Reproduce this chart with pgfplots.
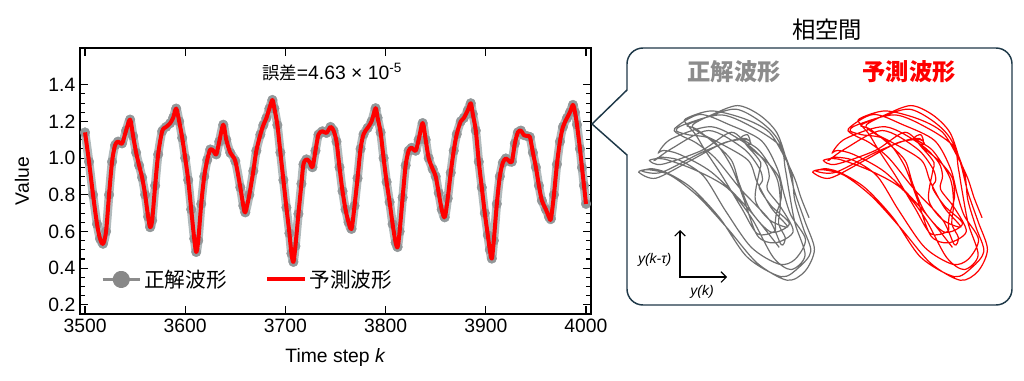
\documentclass[border=0pt]{standalone}
\usepackage{fontspec}
\setmainfont{Liberation Sans}
\newfontfamily\jp{Noto Sans CJK JP}
\usepackage{pgfplots}
\usepackage{pgfplotstable}
\pgfplotsset{compat=1.18}
\usetikzlibrary{arrows.meta}
\definecolor{halo}{RGB}{176,186,188}
\definecolor{dotgray}{RGB}{146,152,154}
\definecolor{legdot}{RGB}{136,136,136}
\definecolor{ptgray}{RGB}{112,112,112}
\definecolor{boxcol}{RGB}{30,56,72}
\definecolor{lblgray}{RGB}{140,140,140}

% k, value, value about 17 steps earlier (for the phase-space view)
\pgfplotstableread{
k v lag
3500 1.14 nan
3504 0.98 nan
3508 0.80 nan
3512 0.64 nan
3515 0.56 nan
3518 0.533 nan
3521 0.60 1.14
3524 0.80 0.98
3527 0.98 0.80
3530 1.07 0.64
3533 1.09 0.56
3537 1.08 0.533
3541 1.15 0.60
3545 1.21 0.80
3548 1.12 0.98
3551 1.03 1.07
3554 0.96 1.09
3557 0.894 1.08
3560 0.80 1.15
3563 0.68 1.21
3565 0.623 1.12
3567 0.66 1.03
3570 0.85 0.96
3573 1.02 0.894
3577 1.146 0.80
3581 1.17 0.68
3585 1.19 0.623
3588 1.22 0.66
3591 1.27 0.85
3594 1.20 1.02
3597 1.11 1.146
3600 1.00 1.17
3603 0.88 1.19
3606 0.72 1.22
3609 0.56 1.27
3611 0.488 1.20
3613 0.55 1.11
3616 0.75 1.00
3619 0.90 0.88
3622 0.99 0.72
3625 1.047 0.56
3628 1.04 0.488
3631 1.02 0.55
3634 1.09 0.75
3638 1.182 0.90
3641 1.10 0.99
3645 1.029 1.047
3650 0.984 1.04
3655 0.84 1.02
3658 0.74 1.09
3660 0.704 1.182
3664 0.80 1.10
3668 0.93 1.029
3671 1.04 0.984
3675 1.128 0.84
3678 1.18 0.74
3681 1.218 0.704
3684 1.27 0.80
3687 1.317 0.93
3689 1.27 1.04
3692 1.18 1.128
3695 1.03 1.18
3698 0.88 1.218
3701 0.73 1.27
3704 0.59 1.317
3706 0.48 1.27
3708 0.434 1.18
3710 0.52 1.03
3713 0.696 0.88
3716 0.86 0.73
3718 0.966 0.59
3721 0.993 0.48
3724 0.98 0.434
3727 0.95 0.52
3730 1.04 0.696
3733 1.128 0.86
3737 1.146 0.966
3741 1.137 0.993
3745 1.17 0.98
3748 1.15 0.95
3751 1.09 1.04
3754 0.95 1.128
3757 0.82 1.146
3760 0.72 1.137
3763 0.65 1.17
3766 0.614 1.15
3769 0.74 1.09
3772 0.89 0.95
3775 1.05 0.82
3778 1.13 0.72
3782 1.164 0.65
3786 1.20 0.614
3790 1.272 0.74
3792 1.22 0.89
3795 1.14 1.05
3798 1.00 1.13
3801 0.87 1.164
3804 0.76 1.20
3807 0.64 1.272
3810 0.54 1.22
3812 0.515 1.14
3814 0.60 1.00
3817 0.785 0.87
3820 0.96 0.76
3823 1.04 0.64
3826 1.056 0.54
3830 1.04 0.515
3833 1.10 0.60
3837 1.191 0.785
3840 1.10 0.96
3843 1.00 1.04
3847 0.94 1.056
3850 0.90 1.04
3853 0.81 1.10
3856 0.72 1.191
3859 0.677 1.10
3862 0.78 1.00
3865 0.92 0.94
3868 1.04 0.90
3871 1.13 0.81
3875 1.20 0.72
3878 1.218 0.677
3882 1.26 0.78
3885 1.299 0.92
3887 1.24 1.04
3890 1.15 1.13
3893 0.98 1.20
3896 0.84 1.218
3899 0.70 1.26
3902 0.58 1.299
3904 0.50 1.24
3906 0.452 1.15
3908 0.55 0.98
3911 0.75 0.84
3914 0.90 0.70
3917 0.975 0.58
3920 0.998 0.50
3923 0.985 0.452
3926 0.98 0.55
3929 1.08 0.75
3932 1.14 0.90
3935 1.15 0.975
3938 1.125 0.998
3941 1.12 0.985
3944 1.115 0.98
3947 1.03 1.08
3950 0.95 1.14
3953 0.85 1.15
3956 0.768 1.125
3960 0.72 1.12
3963 0.68 1.115
3965 0.669 1.03
3968 0.80 0.95
3971 0.966 0.85
3974 1.09 0.768
3977 1.17 0.72
3981 1.218 0.68
3984 1.25 0.669
3987 1.29 0.80
3989 1.25 0.966
3991 1.182 1.09
3994 1.05 1.17
3996 0.948 1.218
3998 0.85 1.25
4000 0.75 1.29
}\tsdata

\begin{document}
\begin{tikzpicture}
\useasboundingbox (0pt,0pt) rectangle (768pt,285pt);
\begin{axis}[
  at={(60pt,49.5pt)}, anchor=south west, scale only axis,
  width=383.25pt, height=199.5pt,
  xmin=3495, xmax=4005, ymin=0.15, ymax=1.6,
  xtick={3500,3600,3700,3800,3900,4000},
  ytick={0.2,0.4,0.6,0.8,1.0,1.2,1.4},
  minor y tick num=3,
  tick align=inside,
  major tick length=6pt, minor tick length=3.5pt,
  axis line style={line width=1pt},
  every tick/.style={black, line width=0.8pt},
  clip marker paths=true,
  /pgf/number format/assume math mode=true,
  xticklabel style={/pgf/number format/.cd, 1000 sep={}},
  yticklabel style={/pgf/number format/.cd, fixed, precision=1, fixed zerofill},
  tick label style={font=\fontsize{14.5}{16}\selectfont},
  xlabel={Time step \textit{k}}, ylabel={Value},
  label style={font=\fontsize{14.5}{16}\selectfont},
  xlabel style={at={(axis description cs:0.5,-0.162)}, anchor=center},
  ylabel style={at={(axis description cs:-0.1135,0.5)}, anchor=center},
  legend style={draw=none, fill=none, at={(0.033,0.13)}, anchor=west,
    font=\jp\fontsize{15.5}{18}\selectfont,
    /tikz/every even column/.append style={column sep=27pt}},
  legend columns=2, legend cell align=left,
]
\addplot[halo, line width=6.5pt, line join=round, smooth, mark=*, mark size=3.6pt,
  mark options={solid, line width=0.3pt, draw=dotgray, fill=dotgray},
  legend image code/.code={\draw[lblgray, line width=2.2pt] (0pt,0pt) -- (28pt,0pt);
    \fill[legdot] (14pt,0pt) circle (3.3pt);}]
  table[x=k,y=v]{\tsdata};
\addlegendentry{正解波形}
\addplot[red, line width=3pt, line join=round, smooth, no marks,
  legend image code/.code={\draw[red, line width=3pt] (0pt,0pt) -- (28pt,0pt);}]
  table[x=k,y=v]{\tsdata};
\addlegendentry{予測波形}
\end{axis}

\node[anchor=west, font=\fontsize{14.5}{16}\selectfont, inner sep=0pt] at (196.5pt,231pt)
  {{\jp\fontsize{13}{16}\selectfont 誤差}=4.63 × 10\textsuperscript{-5}};

% callout box
\draw[boxcol, line width=1.1pt, line join=round]
  (444pt,192pt) -- (470.25pt,217.5pt) -- (470.25pt,237pt)
  arc[start angle=180, end angle=90, radius=12pt] -- (747pt,249pt)
  arc[start angle=90, end angle=0, radius=12pt] -- (759pt,68.25pt)
  arc[start angle=0, end angle=-90, radius=12pt] -- (482.25pt,56.25pt)
  arc[start angle=270, end angle=180, radius=12pt] -- (470.25pt,168.75pt) -- cycle;

\node[font=\jp\fontsize{17.5}{20}\selectfont] at (620.25pt,262.5pt) {相空間};
\node[font=\jp\bfseries\fontsize{17.5}{20}\selectfont, text=lblgray] at (550.5pt,231pt) {正解波形};
\node[font=\jp\bfseries\fontsize{17.5}{20}\selectfont, text=red] at (681.75pt,231pt) {予測波形};

\begin{axis}[at={(477pt,72.75pt)}, anchor=south west, scale only axis,
  width=135.75pt, height=135pt, hide axis, clip=false,
  xmin=0.42, xmax=1.33, ymin=0.42, ymax=1.33]
\addplot[ptgray, line width=0.9pt, smooth, no marks] table[x=lag,y=v]{\tsdata};
\end{axis}
\begin{axis}[at={(607.5pt,72.75pt)}, anchor=south west, scale only axis,
  width=135pt, height=135pt, hide axis, clip=false,
  xmin=0.42, xmax=1.33, ymin=0.42, ymax=1.33]
\addplot[red, line width=0.9pt, smooth, no marks] table[x=lag,y=v]{\tsdata};
\end{axis}

\draw[line width=0.8pt, {Straight Barb[length=4pt]}-{Straight Barb[length=4pt]}]
  (510pt,112.5pt) -- (510pt,77.25pt) -- (545.25pt,77.25pt);
\node[anchor=east, font=\itshape\fontsize{10.5}{12}\selectfont] at (507pt,90pt) {y(k-τ)};
\node[font=\itshape\fontsize{10.5}{12}\selectfont] at (526.5pt,66pt) {y(k)};
\end{tikzpicture}
\end{document}
